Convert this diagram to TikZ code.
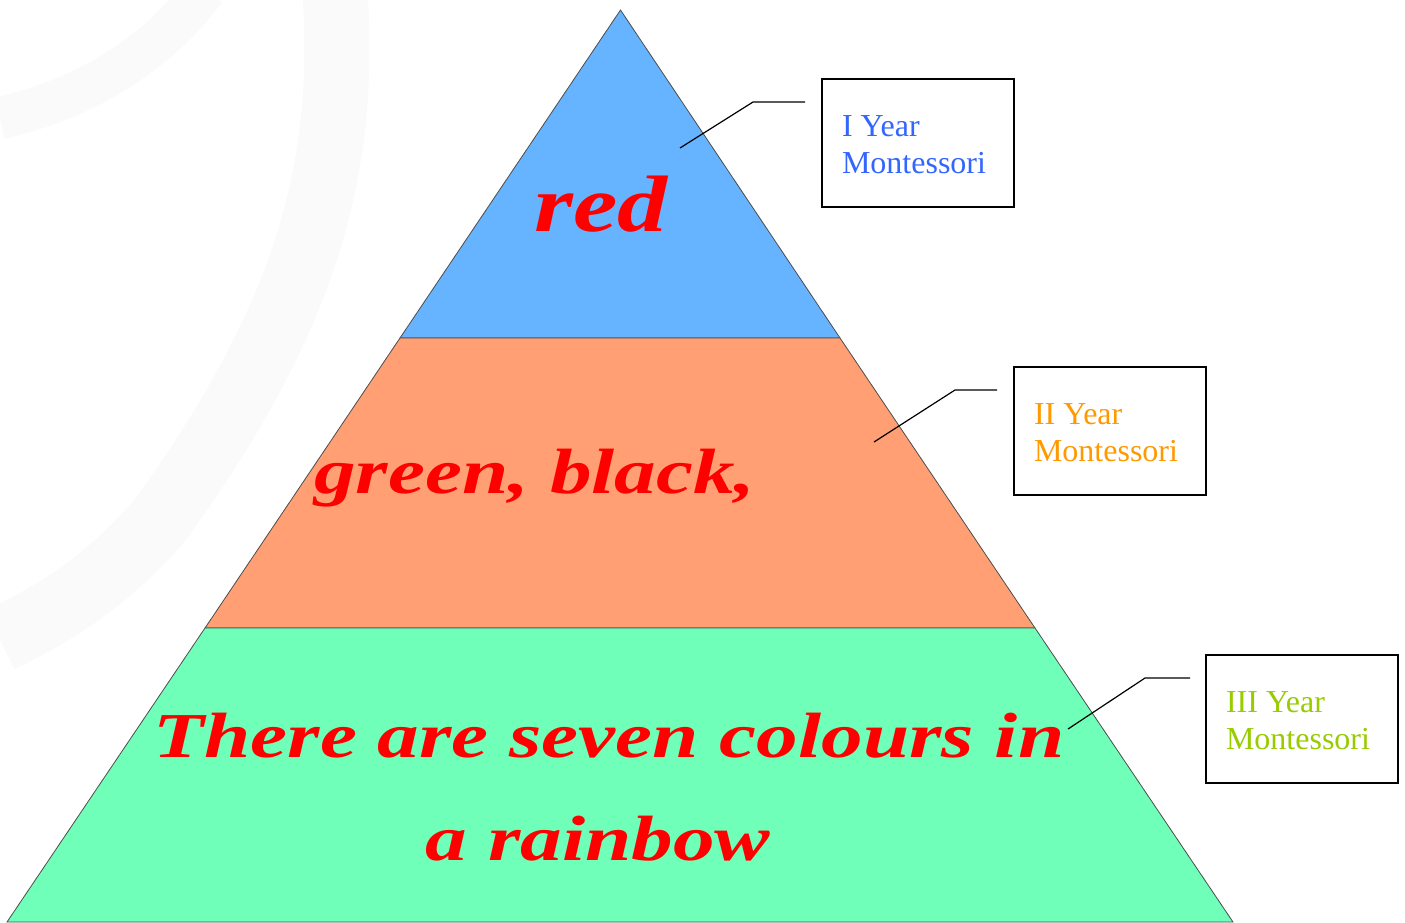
\documentclass[tikz,border=0pt]{standalone}
\usepackage{fontspec}
\setmainfont{Liberation Serif}
\definecolor{layerA}{HTML}{66B3FF}
\definecolor{layerB}{HTML}{FF9F73}
\definecolor{layerC}{HTML}{70FFB8}
\definecolor{txtA}{HTML}{3366FF}
\definecolor{txtB}{HTML}{FF9900}
\definecolor{txtC}{HTML}{99CC00}
\definecolor{wm}{HTML}{FAFAFB}
\definecolor{scriptred}{HTML}{FF0000}
\newcommand{\wide}[1]{\scalebox{1.3}[1]{#1}}
\tikzset{
  layer/.style={draw=black!70, line width=0.8pt},
  yearbox/.style={draw=black, line width=2pt, minimum width=192pt, minimum height=128pt, inner sep=0pt},
  yeartext/.style={font=\fontsize{32}{37}\selectfont, align=left, anchor=north west},
  callout/.style={draw=black, line width=1.2pt},
  hand/.style={text=scriptred, anchor=base, inner sep=0pt, font=\bfseries\itshape\fontsize{64}{64}\selectfont}
}
\begin{document}
\begin{tikzpicture}[x=1pt,y=-1pt]
\useasboundingbox (0,0) rectangle (1405,922);
\fill[white] (0,0) rectangle (1405,922);
% faint watermark
\draw[wm, line width=42pt] (0,118) .. controls (90,98) and (160,50) .. (205,-10);
\draw[wm, line width=65pt] (335,-10) .. controls (345,150) and (320,300) .. (160,520) .. controls (100,590) and (40,620) .. (0,640);
% pyramid layers
\filldraw[layer, fill=layerA] (620.5,10) -- (840,338) -- (400,338) -- cycle;
\filldraw[layer, fill=layerB] (400,338) -- (840,338) -- (1035,628) -- (205,628) -- cycle;
\filldraw[layer, fill=layerC] (205,628) -- (1035,628) -- (1233,922) -- (7,922) -- cycle;
% script texts
\node[hand, font=\bfseries\itshape\fontsize{80}{80}\selectfont] (red) at (601,231) {\scalebox{1.25}[1]{red}};
\node[hand] (gb) at (535,493) {\wide{green, black,}};
\node[hand] (l1) at (609,757) {\wide{There are seven colours in}};
\node[hand] (l2) at (598,860) {\wide{a rainbow}};
% boxes
\node[yearbox] (b1) at (918,143) {};
\node[yearbox] (b2) at (1110,431) {};
\node[yearbox] (b3) at (1302,719) {};
\node[yeartext, text=txtA] (t1) at (838.5,112) {I Year\\Montessori};
\node[yeartext, text=txtB] (t2) at (1030.5,400) {II Year\\Montessori};
\node[yeartext, text=txtC] (t3) at (1222.5,688) {III Year\\Montessori};
% callouts
\coordinate (c1a) at (680,148); \coordinate (c1b) at (753,102); \coordinate (c1c) at (805,102);
\coordinate (c2a) at (874,442); \coordinate (c2b) at (955,390); \coordinate (c2c) at (997,390);
\coordinate (c3a) at (1068,729); \coordinate (c3b) at (1145,678); \coordinate (c3c) at (1190,678);
\draw[callout] (c1a) -- (c1b) -- (c1c);
\draw[callout] (c2a) -- (c2b) -- (c2c);
\draw[callout] (c3a) -- (c3b) -- (c3c);
\end{tikzpicture}
\end{document}
